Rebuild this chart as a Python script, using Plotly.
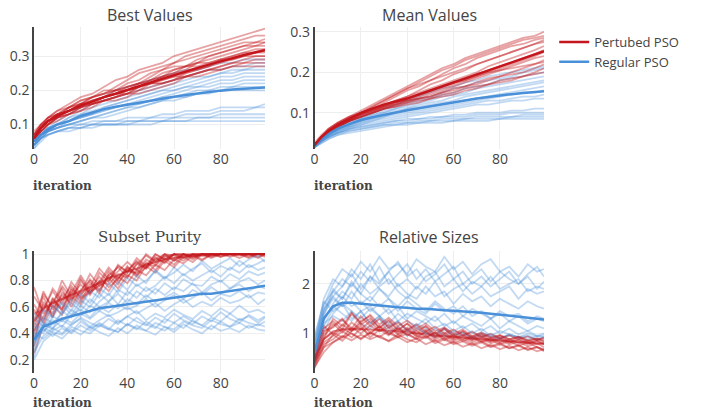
import plotly.graph_objects as go

# ---------------- data ----------------
XS = [0, 3, 6, 10, 15, 20, 25, 30, 35, 40, 45, 50, 55, 60, 65, 70, 75, 80, 85, 90, 95, 99]
XN = [0, 4, 8, 12, 16, 20, 24, 28, 32, 36, 40, 44, 48, 52, 56, 60, 64, 68, 72, 76, 80, 84, 88, 92, 96, 99]

BV_RED_RUNS = [
    [.07,.10,.12,.14,.16,.18,.19,.21,.23,.24,.26,.27,.28,.30,.31,.32,.33,.34,.35,.36,.37,.38],
    [.06,.09,.12,.13,.15,.17,.18,.19,.21,.23,.25,.26,.27,.28,.30,.31,.32,.33,.34,.35,.36,.36],
    [.07,.10,.11,.13,.14,.16,.18,.20,.20,.22,.23,.25,.26,.28,.29,.30,.31,.32,.33,.34,.34,.35],
    [.06,.09,.11,.12,.15,.16,.17,.18,.20,.21,.22,.24,.26,.27,.27,.29,.30,.31,.32,.33,.34,.34],
    [.08,.10,.12,.14,.15,.17,.18,.19,.20,.20,.22,.23,.24,.26,.27,.28,.30,.31,.32,.33,.33,.34],
    [.06,.08,.10,.12,.13,.15,.16,.18,.19,.21,.22,.22,.24,.25,.26,.28,.29,.30,.31,.32,.33,.33],
    [.07,.09,.11,.13,.14,.15,.17,.18,.19,.20,.21,.23,.24,.25,.27,.27,.28,.29,.30,.31,.32,.32],
    [.05,.08,.10,.12,.14,.16,.17,.18,.19,.19,.21,.22,.23,.24,.25,.26,.27,.29,.30,.31,.31,.32],
    [.06,.09,.11,.13,.14,.16,.16,.17,.18,.20,.21,.22,.22,.23,.25,.26,.27,.28,.29,.30,.31,.31],
    [.07,.10,.12,.13,.15,.16,.18,.19,.20,.21,.22,.23,.25,.26,.27,.28,.28,.29,.29,.30,.30,.30],
    [.06,.08,.10,.12,.13,.14,.15,.17,.18,.19,.20,.22,.23,.24,.24,.25,.26,.27,.28,.29,.30,.30],
    [.07,.09,.11,.13,.14,.15,.16,.17,.18,.19,.21,.22,.22,.23,.24,.25,.26,.27,.28,.28,.29,.29],
    [.06,.09,.10,.12,.13,.14,.16,.17,.18,.19,.19,.20,.21,.22,.24,.25,.26,.26,.27,.28,.28,.28],
    [.05,.08,.10,.11,.13,.15,.16,.17,.17,.18,.20,.21,.22,.23,.24,.24,.25,.26,.27,.27,.27,.27],
]
BV_RED_MEAN = [.06,.09,.11,.125,.14,.155,.167,.18,.19,.20,.212,.223,.234,.245,.255,.265,.275,.285,.294,.303,.311,.317]

BV_BLUE_RUNS = [
    [.05,.08,.09,.11,.13,.15,.17,.18,.20,.21,.22,.23,.24,.25,.26,.26,.27,.28,.28,.29,.29,.29],
    [.05,.07,.09,.10,.12,.14,.16,.17,.18,.19,.20,.21,.22,.23,.24,.25,.26,.26,.27,.27,.28,.28],
    [.04,.07,.08,.10,.12,.13,.15,.16,.17,.18,.19,.20,.21,.22,.23,.24,.24,.25,.26,.26,.27,.27],
    [.05,.07,.09,.10,.11,.13,.14,.15,.16,.17,.18,.19,.20,.21,.22,.23,.24,.25,.25,.26,.26,.26],
    [.04,.06,.08,.10,.11,.12,.13,.15,.16,.17,.18,.19,.20,.20,.21,.22,.23,.24,.24,.25,.25,.25],
    [.05,.07,.09,.10,.11,.12,.13,.14,.15,.16,.17,.18,.19,.20,.21,.21,.22,.23,.23,.24,.24,.24],
    [.04,.07,.08,.09,.11,.12,.13,.14,.15,.16,.16,.17,.18,.19,.20,.21,.21,.22,.22,.23,.23,.23],
    [.05,.07,.08,.09,.10,.11,.12,.13,.14,.15,.16,.17,.18,.18,.19,.20,.20,.21,.21,.22,.22,.22],
    [.04,.06,.08,.09,.10,.11,.12,.13,.14,.15,.15,.16,.17,.18,.18,.19,.20,.20,.21,.21,.21,.21],
    [.04,.06,.08,.09,.10,.11,.12,.12,.13,.14,.15,.16,.17,.17,.18,.19,.19,.20,.20,.20,.20,.20],
    [.04,.06,.08,.09,.10,.10,.11,.11,.11,.12,.12,.12,.13,.13,.14,.14,.14,.15,.15,.15,.15,.16],
    [.04,.06,.07,.08,.09,.10,.10,.11,.11,.11,.11,.12,.12,.12,.13,.13,.13,.14,.14,.14,.15,.15],
    [.03,.06,.07,.08,.09,.09,.10,.10,.10,.11,.11,.11,.11,.12,.12,.12,.12,.13,.13,.13,.13,.13],
    [.04,.06,.07,.08,.09,.09,.10,.10,.10,.10,.11,.11,.11,.11,.11,.12,.12,.12,.12,.12,.12,.12],
    [.03,.05,.07,.08,.08,.09,.09,.10,.10,.10,.10,.10,.11,.11,.11,.11,.11,.11,.11,.11,.11,.11],
]
BV_BLUE_MEAN = [.05,.07,.085,.10,.11,.125,.135,.145,.152,.158,.165,.171,.176,.181,.186,.191,.195,.199,.202,.205,.207,.208]

MV_RED_RUNS = [
    [.02,.04,.06,.075,.09,.105,.12,.135,.15,.165,.18,.195,.21,.22,.235,.245,.255,.265,.275,.285,.29,.30],
    [.02,.04,.06,.075,.09,.10,.115,.13,.145,.16,.175,.19,.205,.215,.23,.24,.25,.26,.27,.28,.285,.29],
    [.02,.04,.055,.07,.085,.10,.11,.125,.14,.155,.165,.18,.195,.21,.22,.235,.245,.255,.265,.27,.28,.285],
    [.02,.04,.055,.07,.085,.10,.11,.12,.13,.14,.155,.17,.18,.195,.205,.22,.23,.24,.25,.26,.27,.28],
    [.025,.045,.06,.075,.09,.10,.11,.12,.13,.14,.15,.16,.17,.18,.19,.20,.215,.225,.235,.245,.255,.265],
    [.02,.04,.055,.07,.085,.095,.105,.115,.125,.135,.145,.155,.165,.175,.185,.195,.205,.215,.225,.235,.245,.255],
    [.02,.04,.055,.07,.08,.095,.105,.115,.125,.13,.14,.15,.16,.17,.18,.19,.20,.21,.22,.23,.24,.25],
    [.02,.035,.05,.065,.08,.09,.10,.11,.12,.13,.135,.145,.155,.165,.175,.185,.195,.205,.215,.225,.235,.24],
    [.02,.035,.05,.065,.08,.09,.10,.11,.12,.125,.135,.14,.15,.16,.165,.175,.185,.19,.20,.21,.22,.23],
    [.02,.04,.055,.07,.085,.095,.105,.115,.12,.13,.135,.14,.15,.155,.165,.17,.18,.19,.195,.20,.21,.22],
    [.02,.035,.05,.065,.08,.09,.10,.11,.115,.125,.13,.135,.145,.15,.16,.165,.17,.18,.185,.19,.20,.21],
    [.02,.04,.055,.07,.08,.09,.10,.11,.115,.12,.125,.135,.14,.145,.155,.16,.17,.175,.18,.19,.195,.20],
    [.02,.04,.055,.07,.085,.10,.115,.13,.145,.16,.17,.18,.19,.20,.21,.22,.23,.24,.25,.26,.27,.275],
    [.02,.035,.05,.065,.08,.095,.105,.115,.125,.135,.145,.155,.165,.175,.18,.19,.20,.205,.21,.215,.22,.225],
]
MV_RED_MEAN = [.02,.04,.055,.07,.085,.099,.11,.12,.128,.135,.145,.155,.165,.175,.185,.195,.205,.215,.225,.235,.245,.252]

MV_BLUE_RUNS = [
    [.02,.035,.05,.065,.08,.09,.10,.11,.12,.13,.14,.15,.16,.165,.175,.18,.19,.195,.20,.205,.21,.215],
    [.02,.035,.05,.065,.075,.085,.095,.105,.115,.125,.135,.14,.15,.16,.165,.175,.18,.185,.19,.20,.205,.21],
    [.02,.035,.05,.06,.075,.085,.095,.10,.11,.12,.13,.135,.145,.15,.16,.165,.17,.18,.185,.19,.195,.20],
    [.02,.035,.045,.06,.07,.08,.09,.10,.11,.115,.125,.13,.14,.145,.15,.16,.165,.17,.175,.18,.185,.19],
    [.015,.03,.045,.06,.07,.08,.09,.095,.105,.11,.12,.125,.13,.14,.145,.15,.155,.16,.165,.17,.175,.18],
    [.02,.035,.045,.06,.07,.08,.085,.095,.10,.11,.115,.12,.125,.13,.14,.145,.15,.155,.16,.165,.17,.175],
    [.015,.03,.045,.055,.065,.075,.085,.09,.10,.105,.11,.115,.12,.125,.13,.135,.14,.145,.15,.155,.16,.165],
    [.02,.035,.045,.055,.065,.075,.08,.09,.095,.10,.105,.11,.115,.12,.125,.13,.135,.14,.145,.15,.15,.155],
    [.015,.03,.04,.055,.065,.07,.08,.085,.09,.095,.10,.105,.11,.115,.12,.125,.13,.13,.135,.14,.14,.145],
    [.015,.03,.04,.05,.06,.07,.075,.08,.085,.09,.095,.10,.105,.11,.115,.12,.12,.125,.13,.13,.135,.135],
    [.02,.03,.04,.05,.06,.065,.07,.075,.08,.085,.085,.09,.09,.095,.095,.10,.10,.10,.105,.105,.11,.11],
    [.015,.03,.04,.05,.06,.065,.07,.075,.08,.08,.085,.085,.09,.09,.09,.095,.095,.095,.10,.10,.10,.10],
    [.015,.03,.04,.05,.055,.06,.065,.07,.075,.075,.08,.08,.085,.085,.085,.09,.09,.09,.09,.095,.095,.095],
    [.015,.025,.035,.045,.055,.06,.065,.07,.07,.075,.075,.08,.08,.08,.085,.085,.085,.085,.09,.09,.09,.09],
    [.015,.025,.035,.045,.05,.055,.06,.065,.07,.07,.075,.075,.075,.08,.08,.08,.08,.085,.085,.085,.085,.085],
]
MV_BLUE_MEAN = [.018,.035,.047,.06,.072,.082,.089,.095,.10,.106,.111,.116,.121,.126,.131,.135,.139,.143,.146,.149,.151,.153]

SP_RED_RUNS = [
    [.45,.72,.58,.69,.63,.80,.71,.77,.88,.79,.86,.95,.90,1,.96,1,.97,1,1,.98,1,1,.97,1,1,1],
    [.62,.50,.66,.59,.74,.68,.81,.73,.84,.90,.83,.92,.99,.94,1,.97,1,1,.99,1,1,1,1,.98,1,1],
    [.30,.64,.55,.76,.66,.71,.85,.76,.80,.91,.87,.86,.96,.92,1,.99,.95,1,1,1,.98,1,1,1,1,.99],
    [.55,.58,.72,.62,.79,.70,.75,.89,.81,.87,.94,.88,1,.95,.98,1,1,.97,1,1,1,.99,1,1,.97,1],
    [.40,.68,.52,.71,.65,.82,.69,.80,.77,.85,.82,.93,.89,.97,.94,1,.99,1,.96,1,1,1,1,1,1,1],
    [.75,.55,.64,.74,.60,.73,.80,.70,.86,.81,.90,.85,.93,.91,.99,.95,1,.98,1,1,.99,1,1,1,.98,1],
    [.25,.46,.61,.54,.68,.62,.74,.79,.72,.83,.78,.88,.84,.92,.88,.96,.93,.99,.95,1,.98,1,1,.99,1,1],
    [.50,.70,.60,.80,.68,.77,.70,.86,.79,.92,.86,.97,.91,1,.96,1,1,.98,1,1,1,1,.99,1,1,1],
    [.58,.48,.67,.57,.71,.64,.78,.72,.84,.77,.89,.83,.94,.88,.97,.92,1,.96,1,.99,1,1,1,1,1,.98],
    [.35,.62,.53,.66,.76,.67,.73,.83,.75,.81,.91,.84,.90,.98,.93,1,.97,1,1,1,1,.98,1,1,1,1],
    [.68,.57,.74,.65,.70,.84,.72,.79,.90,.82,.88,.94,.89,.96,1,.95,1,.99,1,1,1,1,1,.97,1,1],
    [.42,.53,.64,.58,.73,.66,.71,.76,.82,.74,.84,.80,.91,.86,.95,.90,.98,.94,1,.97,1,1,1,1,1,1],
]
SP_RED_MEAN = [.49,.59,.63,.66,.69,.72,.75,.78,.82,.84,.87,.89,.92,.94,.96,.97,.98,.99,.99,.99,1,1,1,1,1,1]

SP_BLUE_RUNS = [
    [.40,.58,.52,.64,.57,.70,.63,.74,.69,.79,.73,.84,.78,.88,.82,.86,.92,.87,.95,.89,.93,.97,.91,.96,.99,.94],
    [.28,.50,.61,.55,.66,.60,.72,.67,.78,.71,.82,.76,.80,.87,.81,.90,.84,.89,.93,.86,.91,.88,.95,.90,.93,.96],
    [.52,.45,.56,.62,.54,.65,.60,.70,.64,.73,.69,.77,.72,.76,.83,.78,.85,.80,.84,.88,.83,.90,.86,.92,.88,.90],
    [.22,.47,.43,.57,.52,.61,.56,.64,.70,.62,.72,.67,.75,.70,.78,.73,.81,.77,.76,.83,.79,.85,.81,.87,.84,.86],
    [.36,.52,.48,.55,.63,.57,.66,.60,.64,.70,.63,.72,.67,.74,.69,.75,.72,.78,.71,.77,.80,.74,.79,.82,.77,.80],
    [.45,.40,.53,.49,.58,.53,.61,.57,.63,.59,.66,.62,.69,.64,.67,.71,.66,.73,.69,.75,.70,.74,.77,.72,.76,.74],
    [.31,.46,.50,.45,.54,.58,.52,.60,.56,.62,.58,.61,.66,.60,.65,.69,.63,.67,.71,.65,.70,.68,.72,.67,.71,.70],
    [.48,.42,.47,.52,.48,.55,.51,.57,.53,.56,.60,.55,.59,.63,.57,.62,.66,.60,.64,.61,.67,.63,.65,.69,.62,.66],
    [.26,.38,.44,.40,.47,.51,.45,.50,.54,.48,.53,.57,.50,.55,.52,.58,.54,.51,.57,.53,.59,.55,.61,.56,.58,.55],
    [.40,.36,.42,.46,.41,.49,.44,.47,.43,.50,.46,.52,.47,.44,.51,.48,.53,.49,.46,.52,.49,.55,.50,.53,.48,.52],
    [.33,.43,.38,.44,.40,.46,.42,.48,.44,.41,.47,.43,.49,.45,.42,.48,.44,.50,.46,.43,.49,.45,.48,.44,.47,.45],
    [.20,.34,.40,.36,.43,.39,.45,.41,.38,.44,.40,.46,.42,.39,.45,.41,.47,.43,.40,.46,.42,.44,.41,.46,.43,.42],
    [.55,.48,.44,.50,.46,.52,.48,.45,.51,.47,.53,.49,.46,.52,.48,.55,.50,.47,.53,.49,.56,.51,.48,.54,.50,.53],
    [.38,.44,.41,.39,.45,.42,.40,.46,.43,.41,.47,.44,.42,.48,.45,.43,.49,.46,.44,.50,.47,.45,.51,.48,.46,.49],
]
SP_BLUE_MEAN = [.35,.45,.48,.51,.53,.55,.57,.59,.60,.61,.62,.63,.64,.65,.66,.67,.68,.69,.70,.70,.71,.72,.73,.74,.75,.76]

RS_RED_RUNS = [
    [.45,.95,1.15,1.30,1.05,1.25,1.35,1.10,1.25,1.05,1.20,1.00,1.15,.95,1.10,.92,1.04,.90,.98,.86,.95,.84,.92,.82,.88,.85],
    [.30,.72,.98,.85,1.05,1.15,.92,1.08,.96,1.12,.98,.90,1.04,.88,.97,.85,.93,.82,.90,.80,.86,.78,.83,.74,.80,.72],
    [.62,1.10,1.25,1.08,1.40,1.18,1.30,1.12,1.28,1.08,1.20,1.06,1.15,1.00,1.10,.96,1.05,.93,1.00,.90,.96,.88,.94,.86,.90,.88],
    [.35,.78,.88,1.05,.92,1.10,.98,1.15,1.00,.93,1.08,.95,.90,1.02,.86,.96,.84,.92,.82,.88,.78,.85,.75,.82,.72,.68],
    [.50,1.00,1.20,1.02,1.22,1.08,1.25,1.05,1.18,1.00,1.12,.98,1.08,.93,1.02,.90,.98,.87,.95,.84,.91,.82,.88,.80,.85,.79],
    [.40,.72,.82,.95,.86,.98,.88,.96,.84,.93,.82,.90,.78,.86,.76,.83,.73,.80,.70,.77,.68,.75,.66,.72,.64,.68],
    [.55,1.05,1.12,1.28,1.10,1.35,1.15,1.30,1.12,1.22,1.08,1.18,1.04,1.14,1.00,1.08,.96,1.03,.93,.99,.90,.96,.88,.94,.86,.92],
    [.38,.88,1.02,.92,1.12,1.00,1.16,1.04,1.12,.98,1.08,.94,1.04,.92,.99,.88,.96,.86,.93,.83,.89,.81,.87,.78,.85,.77],
    [.65,1.15,.98,1.18,1.05,1.20,1.02,1.14,.98,1.10,.96,1.05,.93,1.02,.90,.98,.88,.95,.84,.91,.82,.89,.80,.86,.78,.81],
    [.32,.62,.82,.92,1.00,.90,1.02,.93,1.05,.92,1.00,.88,.96,.84,.91,.81,.88,.78,.85,.74,.81,.70,.77,.66,.73,.64],
    [.48,.90,1.30,1.15,1.42,1.22,1.38,1.18,1.32,1.15,1.26,1.10,1.20,1.05,1.12,1.00,1.08,.95,1.02,.92,.97,.88,.93,.85,.90,.83],
    [.42,.82,.95,1.10,1.00,.88,1.02,.92,.85,.98,.88,.82,.94,.80,.88,.78,.84,.75,.82,.72,.78,.70,.75,.68,.72,.66],
]
RS_RED_MEAN = [.47,.89,1.04,1.08,1.09,1.09,1.08,1.07,1.06,1.04,1.03,1.00,.99,.96,.95,.93,.92,.90,.89,.87,.86,.84,.83,.81,.80,.79]

RS_BLUE_RUNS = [
    [.70,1.55,2.00,2.30,2.15,2.45,2.25,2.55,2.30,2.40,2.20,2.50,2.35,2.25,2.55,2.30,2.45,2.20,2.40,2.50,2.25,2.35,2.15,2.40,2.25,2.30],
    [.55,1.35,1.85,2.10,1.95,2.25,2.05,2.35,2.00,2.20,2.40,2.10,2.30,2.05,2.20,2.35,2.00,2.15,2.30,2.05,2.25,2.10,2.00,2.20,2.35,2.15],
    [.85,1.45,1.75,1.95,2.20,1.90,2.15,2.00,2.25,1.95,2.10,1.90,2.15,2.25,1.95,2.10,1.85,2.05,1.95,2.15,1.90,2.00,2.10,1.85,1.95,1.90],
    [.45,1.25,1.60,1.85,1.70,2.00,1.80,1.95,2.10,1.85,1.70,1.95,1.80,2.05,1.75,1.90,2.00,1.80,1.95,1.75,1.85,1.95,1.70,1.90,1.80,1.85],
    [.95,1.60,1.85,1.70,2.05,1.80,2.15,1.90,1.75,2.00,1.80,1.70,1.95,1.75,1.85,1.60,1.80,1.65,1.75,1.55,1.70,1.60,1.50,1.65,1.55,1.50],
    [.60,1.40,1.70,1.55,1.85,1.60,1.75,1.55,1.70,1.45,1.65,1.50,1.40,1.60,1.45,1.55,1.35,1.50,1.40,1.30,1.45,1.35,1.40,1.25,1.35,1.30],
    [.50,1.15,1.50,1.75,1.55,1.65,1.45,1.60,1.40,1.55,1.30,1.45,1.35,1.25,1.40,1.20,1.35,1.25,1.15,1.30,1.10,1.25,1.15,1.05,1.15,1.10],
    [.75,1.50,1.75,1.55,1.65,1.45,1.55,1.35,1.50,1.25,1.40,1.30,1.20,1.35,1.15,1.25,1.10,1.20,1.05,1.15,1.00,1.10,.98,1.05,.95,1.00],
    [.40,1.05,1.40,1.60,1.45,1.30,1.50,1.35,1.20,1.40,1.25,1.15,1.30,1.10,1.20,1.05,1.15,1.00,1.10,.95,1.05,.98,.92,1.00,.94,.96],
    [.65,1.30,1.55,1.40,1.25,1.45,1.20,1.35,1.15,1.25,1.05,1.20,1.10,.98,1.12,1.00,.95,1.05,.92,1.00,.90,.98,.93,.88,.95,.92],
    [.88,1.65,1.45,1.60,1.30,1.45,1.20,1.35,1.10,1.25,1.05,1.15,.98,1.10,.95,1.05,1.00,.92,1.02,.95,.90,.98,.92,.96,.88,.93],
    [.50,1.20,1.35,1.25,1.45,1.20,1.10,1.30,1.00,1.15,.95,1.10,1.02,.92,1.08,.96,1.02,.90,.98,.93,.88,.96,.90,.94,.87,.91],
    [.62,1.45,1.90,1.70,2.00,1.80,1.65,1.90,1.70,1.55,1.75,1.60,1.45,1.65,1.50,1.40,1.55,1.35,1.45,1.30,1.40,1.25,1.35,1.20,1.30,1.25],
    [.72,1.70,2.10,1.95,2.30,2.10,2.40,2.05,2.25,2.45,2.15,2.30,2.05,2.20,2.40,2.10,2.25,2.00,2.15,1.95,2.10,2.25,2.00,2.15,1.90,2.05],
]
RS_BLUE_MEAN = [.60,1.30,1.55,1.62,1.62,1.60,1.58,1.56,1.55,1.53,1.52,1.50,1.50,1.48,1.47,1.46,1.45,1.43,1.42,1.40,1.38,1.36,1.34,1.32,1.30,1.28]

TITLES = ["Best Values", "Mean Values", "Subset Purity", "Relative Sizes"]
SERIES_NAMES = ["Pertubed PSO", "Regular PSO"]
X_TICKS = [0, 20, 40, 60, 80]
Y_TICKS = [[0.1, 0.2, 0.3], [0.1, 0.2, 0.3], [0.2, 0.4, 0.6, 0.8, 1], [1, 2]]
Y_TICK_TEXT = [["0.1", "0.2", "0.3"], ["0.1", "0.2", "0.3"], ["0.2", "0.4", "0.6", "0.8", "1"], ["1", "2"]]
Y_RANGES = [[0.028, 0.385], [0.01, 0.312], [0.1, 1.025], [0.2, 2.67]]

# ---------------- styling ----------------
RED = "#c4161c"
BLUE = "#4a90d9"
RED_RUN = "rgba(196,22,28,0.40)"
BLUE_RUN = "rgba(74,144,217,0.34)"
RED_HIDDEN_MEAN = "rgba(196,22,28,0.55)"

fig = go.Figure()

# (x grid, red runs, red mean, blue runs, blue mean, red drawn first, red mean on top)
panels = [
    (XS, BV_RED_RUNS, BV_RED_MEAN, BV_BLUE_RUNS, BV_BLUE_MEAN, False, True),
    (XS, MV_RED_RUNS, MV_RED_MEAN, MV_BLUE_RUNS, MV_BLUE_MEAN, False, True),
    (XN, SP_RED_RUNS, SP_RED_MEAN, SP_BLUE_RUNS, SP_BLUE_MEAN, True, False),
    (XN, RS_RED_RUNS, RS_RED_MEAN, RS_BLUE_RUNS, RS_BLUE_MEAN, False, False),
]

for i, (xs, rr, rm, br, bm, red_first, red_mean_top) in enumerate(panels):
    xa = "x" if i == 0 else f"x{i+1}"
    ya = "y" if i == 0 else f"y{i+1}"

    def add_line(y, col, width, grp, name=None):
        fig.add_trace(go.Scatter(x=xs, y=y, mode="lines", xaxis=xa, yaxis=ya,
                                 line=dict(color=col, width=width),
                                 legendgroup=grp, showlegend=False, name=name,
                                 hoverinfo="skip"))

    if not red_mean_top:
        add_line(rm, RED_HIDDEN_MEAN, 2, "r", SERIES_NAMES[0])
    if red_first:
        for r in rr:
            add_line(r, RED_RUN, 1.8, "r")
        for r in br:
            add_line(r, BLUE_RUN, 1.8, "b")
    else:
        for r in br:
            add_line(r, BLUE_RUN, 1.8, "b")
        for r in rr:
            add_line(r, RED_RUN, 1.8, "r")
    add_line(bm, BLUE, 2.5, "b", SERIES_NAMES[1])
    if red_mean_top:
        add_line(rm, RED, 2.5, "r", SERIES_NAMES[0])

# legend entries
fig.add_trace(go.Scatter(x=[None], y=[None], mode="lines", line=dict(color=RED, width=2.5),
                         name=SERIES_NAMES[0], legendgroup="r"))
fig.add_trace(go.Scatter(x=[None], y=[None], mode="lines", line=dict(color=BLUE, width=2.5),
                         name=SERIES_NAMES[1], legendgroup="b"))

W, H = 706, 418
ML, MR, MT, MB = 34, 162, 27, 45
xdoms = [[0, 0.453], [0.55, 1], [0, 0.453], [0.55, 1]]
ydoms = [[0.647, 1], [0.647, 1], [0, 0.353], [0, 0.353]]

layout = dict(
    width=W, height=H,
    margin=dict(l=ML, r=MR, t=MT, b=MB, autoexpand=False),
    paper_bgcolor="white", plot_bgcolor="white",
    font=dict(family="Open Sans, sans-serif", size=13, color="#444"),
    legend=dict(x=1.02, y=1.0, xanchor="left", yanchor="top",
                font=dict(family="Open Sans, sans-serif", size=13, color="#444"),
                tracegroupgap=0),
    showlegend=True,
)
annotations = []
for i in range(4):
    xk = "xaxis" if i == 0 else f"xaxis{i+1}"
    yk = "yaxis" if i == 0 else f"yaxis{i+1}"
    ya_name = "y" if i == 0 else f"y{i+1}"
    xa_name = "x" if i == 0 else f"x{i+1}"
    layout[xk] = dict(domain=xdoms[i], anchor=ya_name, range=[0, 99],
                      tickvals=X_TICKS, showgrid=True, gridcolor="#eeeeee",
                      zeroline=False, showline=False, ticks="", automargin=False,
                      tickfont=dict(size=14, color="#444"))
    layout[yk] = dict(domain=ydoms[i], anchor=xa_name, range=Y_RANGES[i],
                      tickvals=Y_TICKS[i], ticktext=Y_TICK_TEXT[i],
                      showgrid=True, gridcolor="#eeeeee", zeroline=False,
                      showline=True, linecolor="#444", linewidth=1.5, ticks="",
                      automargin=False, tickfont=dict(size=14, color="#444"))
    serif = (i == 2)
    annotations.append(dict(
        text=TITLES[i], xref=f"{xa_name} domain", yref=f"{ya_name} domain",
        x=0.5, y=1, xanchor="center", yanchor="middle", yshift=12 if i < 2 else 14,
        showarrow=False,
        font=dict(family="DejaVu Serif, serif" if serif else "Open Sans, sans-serif",
                  size=15 if serif else 16, color="#444")))
    annotations.append(dict(
        text="<b>iteration</b>", xref=f"{xa_name} domain", yref=f"{ya_name} domain",
        x=0, y=0, xanchor="left", yanchor="middle", yshift=-37 if i < 2 else -30,
        xshift=-3, showarrow=False,
        font=dict(family="DejaVu Serif, serif", size=12, color="#444")))
layout["annotations"] = annotations
fig.update_layout(**layout)

# remove the default page margin so the figure sits at the window's top-left corner
fig.write_html("out.html", config={"displayModeBar": False},
               post_script="document.body.style.margin='0';")
